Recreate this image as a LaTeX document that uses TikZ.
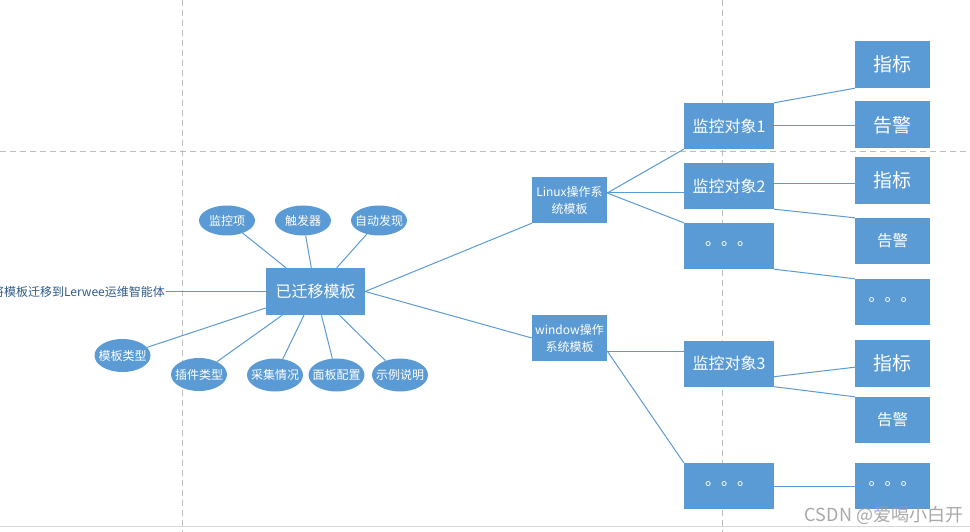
\documentclass[tikz,border=0pt]{standalone}
\usepackage{fontspec}
\setmainfont{Noto Sans CJK SC}
\usetikzlibrary{shapes.geometric}
\definecolor{boxblue}{HTML}{5B9BD5}
\definecolor{lineblue}{HTML}{5B9BD5}
\definecolor{guide}{HTML}{BDBDBD}
\definecolor{labtext}{HTML}{2E5C8A}
\tikzset{
  blk/.style={fill=boxblue, draw=none, text=white, inner sep=0pt, align=center},
  hubbox/.style={blk, minimum width=99pt, minimum height=47pt, font=\fontsize{16}{18}\selectfont},
  osbox/.style={blk, minimum width=75pt, minimum height=46pt, font=\fontsize{12}{17}\selectfont},
  objbox/.style={blk, minimum width=90pt, minimum height=46pt, font=\fontsize{16}{19}\selectfont},
  leafbig/.style={blk, minimum width=75pt, minimum height=47pt, font=\fontsize{19}{22}\selectfont},
  leafsmall/.style={blk, minimum width=75pt, minimum height=46pt, font=\fontsize{15.5}{18}\selectfont},
  oval/.style={ellipse, fill=boxblue, draw=none, text=white, inner xsep=-4.5pt, inner ysep=0pt, minimum width=56pt, font=\fontsize{12}{14}\selectfont},
  ovaltop/.style={oval, minimum height=30pt},
  ovalbot/.style={oval, minimum height=33pt},
  conn/.style={draw=lineblue, line width=1pt},
  guideline/.style={draw=guide, line width=0.9pt, dash pattern=on 6pt off 4pt},
}
\newcommand{\dotsrow}{\raisebox{0.28em}{。。。}}
\begin{document}
\begin{tikzpicture}[x=1pt,y=-1pt]
\useasboundingbox (0,0) rectangle (970,532);
\fill[white] (0,0) rectangle (970,532);
% guides
\draw[guideline] (182,0) -- (182,532);
\draw[guideline] (722,0) -- (722,532);
\draw[guideline] (0,151) -- (970,151);
\draw[draw=guide!60, line width=0.8pt] (0,526.5) -- (970,526.5);

% hub
\node[hubbox] (hub) at (315.5,291.5) {已迁移模板};
\node[ovaltop] (e1) at (227,220.5) {监控项};
\node[ovaltop] (e2) at (303,220.5) {触发器};
\node[ovaltop] (e3) at (379,220.5) {自动发现};
\node[ovalbot] (e4) at (122.5,355.5) {模板类型};
\node[ovalbot] (e5) at (199,374.5) {插件类型};
\node[ovalbot] (e6) at (275,375) {采集情况};
\node[ovalbot] (e7) at (336.5,375) {面板配置};
\node[ovalbot] (e8) at (400,375) {示例说明};
\node[anchor=east, inner sep=1pt, text=labtext, font=\fontsize{12}{14}\selectfont] (lt) at (166,291.5) {将模板迁移到Lerwee运维智能体};

\foreach \e in {e1,e2,e3,e4,e5,e6,e7,e8} \draw[conn] (\e) -- (hub);
\draw[conn] (lt.east) -- (lt.east -| hub.west);

% OS boxes
\node[osbox] (L) at (569.5,200) {Linux操作系\\统模板};
\node[osbox] (W) at (569.5,338) {window操作\\系统模板};
\draw[conn] (hub.east) -- (L.south west);
\draw[conn] (hub.east) -- (W.west);

% monitor objects
\node[objbox] (M1) at (729,126) {监控对象1};
\node[objbox] (M2) at (729,186) {监控对象2};
\node[objbox] (D1) at (729,246) {\dotsrow};
\node[objbox] (M3) at (729,363.5) {监控对象3};
\node[objbox] (D3) at (729,486) {\dotsrow};

% leaves
\node[leafbig] (Z1) at (892.5,64.5) {指标};
\node[leafbig] (G1) at (892.5,125) {告警};
\node[leafbig] (Z2) at (892.5,180.5) {指标};
\node[leafsmall] (G2) at (892.5,241) {告警};
\node[objbox, minimum width=75pt] (D2) at (892.5,302) {\dotsrow};
\node[leafbig] (Z3) at (892.5,363.5) {指标};
\node[leafsmall] (G3) at (892.5,420) {告警};
\node[objbox, minimum width=75pt] (D4) at (892.5,486) {\dotsrow};

% Linux connectors
\coordinate (lr) at ([yshift=7pt]L.east);
\draw[conn] (lr) -- (M1.south west);
\draw[conn] (lr) -- (lr -| M2.west);
\draw[conn] (lr) -- (D1.north west);
% window connectors
\coordinate (wr) at ([yshift=-13pt]W.east);
\draw[conn] (wr) -- (wr -| M3.west);
\draw[conn] (wr) -- (D3.north west);

% object to leaves
\draw[conn] (M1.north east) -- (Z1.south west);
\draw[conn] (M1.east) -- (M1.east -| G1.west);
\draw[conn] ([yshift=2pt]M2.east) -- ([yshift=2pt]M2.east -| Z2.west);
\draw[conn] (M2.south east) -- (G2.north west);
\draw[conn] (D1.south east) -- (D2.north west);
\draw[conn] ([yshift=10pt]M3.south east) -- ([yshift=20pt]Z3.south west);
\draw[conn] (M3.south east) -- (G3.north west);
\draw[conn] (D3.east) -- (D4.west);

% watermark
\node[text=black!40, opacity=0.85, inner sep=0pt, font=\fontsize{18}{20}\selectfont] (wm) at (884,515) {CSDN @爱喝小白开};
\end{tikzpicture}
\end{document}
